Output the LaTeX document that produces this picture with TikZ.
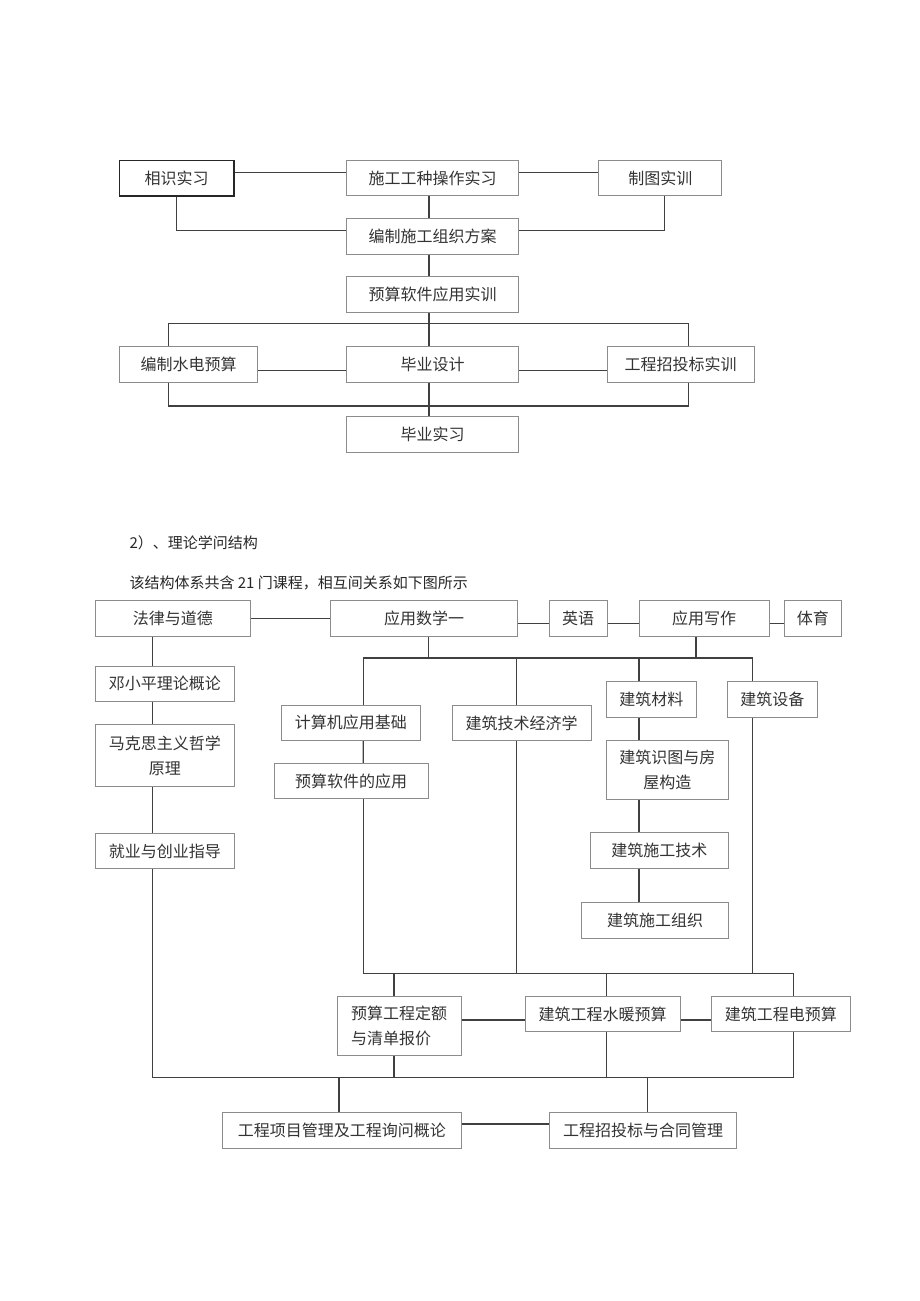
\documentclass[tikz,border=0pt]{standalone}
\usepackage{fontspec}
\newfontfamily\cjk{Noto Sans CJK SC}

\tikzset{
  course/.style={draw=black!45, line width=1pt, fill=white, inner sep=0pt, minimum height=35.3pt, text=black!80},
  link/.style={draw=black!75, line width=1.3pt},
  caption/.style={anchor=west, text=black!85, font=\cjk\fontsize{15}{18}\selectfont},
}

\begin{document}
\begin{tikzpicture}[x=1pt, y=-1pt, font=\cjk\fontsize{16}{25}\selectfont]
\useasboundingbox (0,0) rectangle (920,1301);

% practice courses
\foreach \n/\x/\y/\w/\txt in {sg/432.5/178.3/171.6/施工工种操作实习, zt/660.3/178.3/122.7/制图实训,
    bz/432.5/236.6/171.6/编制施工组织方案, ys/432.5/294.5/171.6/预算软件应用实训,
    sd/188.6/364.5/138.7/编制水电预算, bs/432.5/364.5/171.6/毕业设计,
    zb/680.7/364.5/146.7/工程招投标实训, bx/432.5/434.5/171.6/毕业实习} {
    \node[course, minimum width=\w pt] (\n) at (\x,\y) {\txt};
}
\node[course, draw=black!85, line width=1.5pt, minimum width=114.7pt] (xs) at (176.7,178.3) {相识实习};

\draw[link] ([yshift=5.6pt]xs.east) -- ([yshift=5.6pt]sg.west);
\draw[link] ([yshift=5.6pt]sg.east) -- ([yshift=5.6pt]zt.west);
\draw[link] (xs.south) |- ([yshift=6pt]bz.west);
\draw[link] ([xshift=4pt]zt.south) |- ([yshift=6pt]bz.east);
\foreach \a/\b in {sg/bz, bz/ys, ys/bs, bs/bx}
    \draw[link] ([xshift=-3.5pt]\a.south) -- ([xshift=-3.5pt]\b.north);
\draw[link] ([xshift=-20.3pt]sd.north) -- ++(0,-23.2) -| ([xshift=8pt]zb.north);
\draw[link] ([xshift=-20.3pt]sd.south) -- ++(0,23.3) -| ([xshift=8pt]zb.south);
\draw[link] ([yshift=-6pt]sd.east) -- ([yshift=-6pt]bs.west);
\draw[link] ([yshift=-6pt]bs.east) -- ([yshift=-6pt]zb.west);

% theory courses
\node[caption] (t2) at (126,543) {2）、理论学问结构};
\node[caption] (t3) at (126,583) {该结构体系共含 21 门课程，相互间关系如下图所示};

\foreach \n/\x/\y/\w/\txt in {fl/172.9/618.4/154.3/法律与道德, sx/424.2/618.4/187/应用数学一,
    yy/578/618.4/58/英语, xz/704/618.4/130/应用写作, ty/812.9/618.4/57.7/体育,
    dx/164.9/683.7/138.3/邓小平理论概论, jy/164.9/851/138.3/就业与创业指导,
    js/350.9/722.9/138.3/计算机应用基础, yr/351/781/154/预算软件的应用,
    jj/521.7/722.9/138.7/建筑技术经济学, cl/651.4/699.4/90.7/建筑材料,
    sb/772.4/699.4/90.7/建筑设备, jg/659.4/850.4/138.7/建筑施工技术,
    zz/655.2/920.4/147/建筑施工组织, sn/602.5/1013.9/155/建筑工程水暖预算,
    dy/780.9/1013.9/138.3/建筑工程电预算, gx/341.8/1130.5/238.4/工程项目管理及工程询问概论,
    tb/643/1130.5/187.4/工程招投标与合同管理} {
    \node[course, minimum width=\w pt] (\n) at (\x,\y) {\txt};
}
\node[course, minimum width=138.3pt, minimum height=62.7pt, align=center] (mk) at (164.9,755.4) {马克思主义哲学\\原理};
\node[course, minimum width=122.7pt, minimum height=59pt, align=center] (st) at (667.4,769.5) {建筑识图与房\\屋构造};
\node[course, minimum width=124pt, minimum height=59pt, align=left] (de) at (399,1025.5) {预算工程定额\\与清单报价};

% top row
\draw[link] (fl) -- (sx);
\foreach \a/\b in {sx/yy, yy/xz, xz/ty}
    \draw[link] ([yshift=-5pt]\a.east) -- ([yshift=-5pt]\b.west);
\draw[link] ([xshift=12.4pt]js.north) -- ++(0,-46.75) -| ([xshift=-19.7pt]sb.north);
\draw[link] ([xshift=4pt]sx.south) -- ++(0,22.5);
\draw[link] ([xshift=-8pt]xz.south) -- ++(0,22.5);
\draw[link] ([xshift=-5pt]jj.north) -- ++(0,-46.75);
\draw[link] ([xshift=-12.4pt]cl.north) -- ++(0,-23.25);

% left column
\draw[link] ([xshift=-20.6pt]fl.south) -- ([xshift=-12.6pt]dx.north);
\draw[link] ([xshift=-12.6pt]dx.south) -- ([xshift=-12.6pt]mk.north);
\draw[link] ([xshift=-12.6pt]mk.south) -- ([xshift=-12.6pt]jy.north);
\draw[link] ([xshift=-12.6pt]jy.south) -- ++(0,208.65) -| ([xshift=12.4pt]dy.south);

% middle columns
\draw[link] ([xshift=12.4pt]js.south) -- ([xshift=12.3pt]yr.north);
\draw[link] ([xshift=12.3pt]yr.south) -- ++(0,174.65) -| ([xshift=12.4pt]dy.north);
\draw[link] ([xshift=-5pt]jj.south) -- ++(0,232.75);
\draw[link] ([xshift=-19.7pt]sb.south) -- ++(0,256.25);
\draw[link] ([xshift=-12.4pt]cl.south) -- ([xshift=-28.4pt]st.north);
\draw[link] ([xshift=-28.4pt]st.south) -- ([xshift=-20.4pt]jg.north);
\draw[link] ([xshift=-20.4pt]jg.south) -- ([xshift=-16.2pt]zz.north);

% budget row
\draw[link] ([xshift=-5pt]de.north) -- ++(0,-22.7);
\draw[link] ([xshift=4.2pt]sn.north) -- ++(0,-22.95);
\draw[link] ([xshift=-5pt]de.south) -- ++(0,22.3);
\draw[link] ([xshift=4.2pt]sn.south) -- ++(0,45.75);
\draw[link] ([yshift=5.5pt]de.east) -- ([yshift=-6.1pt]sn.west);
\draw[link] ([yshift=-6.1pt]sn.east) -- ([yshift=-6.1pt]dy.west);

% management row
\draw[link] ([xshift=-2.8pt]gx.north) -- ++(0,-35.55);
\draw[link] ([xshift=4.3pt]tb.north) -- ++(0,-35.55);
\draw[link] ([yshift=6.5pt]gx.east) -- ([yshift=6.5pt]tb.west);

\end{tikzpicture}
\end{document}
